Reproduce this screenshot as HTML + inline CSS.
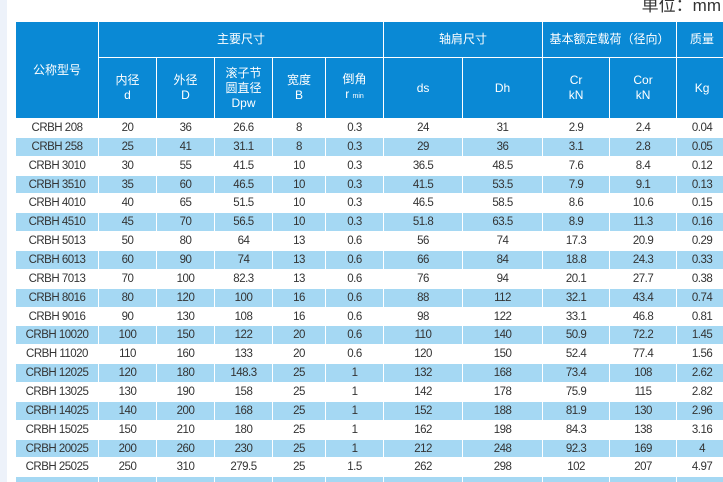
<!DOCTYPE html>
<html><head><meta charset="utf-8"><style>
html,body{margin:0;padding:0;width:723px;height:482px;overflow:hidden;background:#fff;position:relative;font-family:"Liberation Sans","Noto Sans CJK SC",sans-serif;}
.strip{position:absolute;left:0;top:0;width:7px;height:482px;background:#edf2fa;}
.unit{position:absolute;right:2px;top:-9px;font-size:17px;color:#333;white-space:nowrap;}
table{position:absolute;left:15px;top:21px;border-collapse:collapse;table-layout:fixed;width:712px;}
td,th{border:1px solid #fff;padding:0;text-align:center;overflow:hidden;white-space:nowrap;}
th{background:#0a89d5;color:#fff;font-weight:normal;font-size:12px;line-height:15px;}
td{height:17.87px;font-size:11.5px;color:#333;letter-spacing:-0.5px;}
tr.b td{background:#a5d8f3;}
tr.h1 th{height:35px;}
tr.h2 th{height:60px;}
small{font-size:7px;}
</style></head><body>
<div class="strip"></div>
<div class="unit">单位：mm</div>
<table>
<colgroup><col style="width:83px"><col style="width:58px"><col style="width:58px"><col style="width:58px"><col style="width:53px"><col style="width:58px"><col style="width:79px"><col style="width:80px"><col style="width:67px"><col style="width:67px"><col style="width:51px"></colgroup>
<tr class="h1"><th rowspan="2">公称型号</th><th colspan="5">主要尺寸</th><th colspan="2">轴肩尺寸</th><th colspan="2">基本额定载荷（径向）</th><th>质量</th></tr>
<tr class="h2"><th>内径<br>d</th><th>外径<br>D</th><th>滚子节<br>圆直径<br>Dpw</th><th>宽度<br>B</th><th>倒角<br>r <small>min</small></th><th>ds</th><th>Dh</th><th>Cr<br>kN</th><th>Cor<br>kN</th><th>Kg</th></tr>
<tr><td>CRBH 208</td><td>20</td><td>36</td><td>26.6</td><td>8</td><td>0.3</td><td>24</td><td>31</td><td>2.9</td><td>2.4</td><td>0.04</td></tr>
<tr class="b"><td>CRBH 258</td><td>25</td><td>41</td><td>31.1</td><td>8</td><td>0.3</td><td>29</td><td>36</td><td>3.1</td><td>2.8</td><td>0.05</td></tr>
<tr><td>CRBH 3010</td><td>30</td><td>55</td><td>41.5</td><td>10</td><td>0.3</td><td>36.5</td><td>48.5</td><td>7.6</td><td>8.4</td><td>0.12</td></tr>
<tr class="b"><td>CRBH 3510</td><td>35</td><td>60</td><td>46.5</td><td>10</td><td>0.3</td><td>41.5</td><td>53.5</td><td>7.9</td><td>9.1</td><td>0.13</td></tr>
<tr><td>CRBH 4010</td><td>40</td><td>65</td><td>51.5</td><td>10</td><td>0.3</td><td>46.5</td><td>58.5</td><td>8.6</td><td>10.6</td><td>0.15</td></tr>
<tr class="b"><td>CRBH 4510</td><td>45</td><td>70</td><td>56.5</td><td>10</td><td>0.3</td><td>51.8</td><td>63.5</td><td>8.9</td><td>11.3</td><td>0.16</td></tr>
<tr><td>CRBH 5013</td><td>50</td><td>80</td><td>64</td><td>13</td><td>0.6</td><td>56</td><td>74</td><td>17.3</td><td>20.9</td><td>0.29</td></tr>
<tr class="b"><td>CRBH 6013</td><td>60</td><td>90</td><td>74</td><td>13</td><td>0.6</td><td>66</td><td>84</td><td>18.8</td><td>24.3</td><td>0.33</td></tr>
<tr><td>CRBH 7013</td><td>70</td><td>100</td><td>82.3</td><td>13</td><td>0.6</td><td>76</td><td>94</td><td>20.1</td><td>27.7</td><td>0.38</td></tr>
<tr class="b"><td>CRBH 8016</td><td>80</td><td>120</td><td>100</td><td>16</td><td>0.6</td><td>88</td><td>112</td><td>32.1</td><td>43.4</td><td>0.74</td></tr>
<tr><td>CRBH 9016</td><td>90</td><td>130</td><td>108</td><td>16</td><td>0.6</td><td>98</td><td>122</td><td>33.1</td><td>46.8</td><td>0.81</td></tr>
<tr class="b"><td>CRBH 10020</td><td>100</td><td>150</td><td>122</td><td>20</td><td>0.6</td><td>110</td><td>140</td><td>50.9</td><td>72.2</td><td>1.45</td></tr>
<tr><td>CRBH 11020</td><td>110</td><td>160</td><td>133</td><td>20</td><td>0.6</td><td>120</td><td>150</td><td>52.4</td><td>77.4</td><td>1.56</td></tr>
<tr class="b"><td>CRBH 12025</td><td>120</td><td>180</td><td>148.3</td><td>25</td><td>1</td><td>132</td><td>168</td><td>73.4</td><td>108</td><td>2.62</td></tr>
<tr><td>CRBH 13025</td><td>130</td><td>190</td><td>158</td><td>25</td><td>1</td><td>142</td><td>178</td><td>75.9</td><td>115</td><td>2.82</td></tr>
<tr class="b"><td>CRBH 14025</td><td>140</td><td>200</td><td>168</td><td>25</td><td>1</td><td>152</td><td>188</td><td>81.9</td><td>130</td><td>2.96</td></tr>
<tr><td>CRBH 15025</td><td>150</td><td>210</td><td>180</td><td>25</td><td>1</td><td>162</td><td>198</td><td>84.3</td><td>138</td><td>3.16</td></tr>
<tr class="b"><td>CRBH 20025</td><td>200</td><td>260</td><td>230</td><td>25</td><td>1</td><td>212</td><td>248</td><td>92.3</td><td>169</td><td>4</td></tr>
<tr><td>CRBH 25025</td><td>250</td><td>310</td><td>279.5</td><td>25</td><td>1.5</td><td>262</td><td>298</td><td>102</td><td>207</td><td>4.97</td></tr>
<tr class="b"><td>&nbsp;</td><td></td><td></td><td></td><td></td><td></td><td></td><td></td><td></td><td></td><td></td></tr>
</table>
</body></html>
